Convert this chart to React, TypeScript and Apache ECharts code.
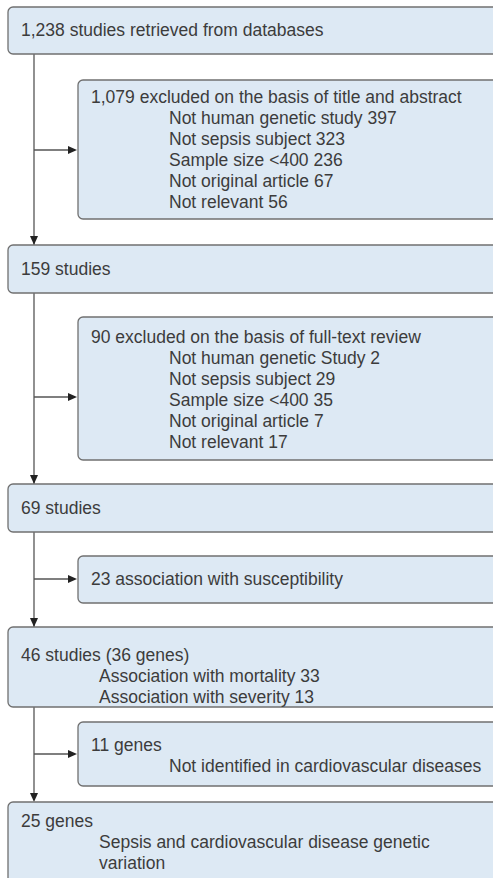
import React, { useEffect, useRef } from "react";
import * as echarts from "echarts";

// ---- data (texts of the flow diagram) ----
const mainHeads = [
  "1,238 studies retrieved from databases",
  "159 studies",
  "69 studies",
  "46 studies (36 genes)",
  "25 genes",
];
const mainItems: string[][] = [
  [],
  [],
  [],
  ["Association with mortality 33", "Association with severity 13"],
  ["Sepsis and cardiovascular disease genetic", "variation"],
];
const sideHeads = [
  "1,079 excluded on the basis of title and abstract",
  "90 excluded on the basis of full-text review",
  "23 association with susceptibility",
  "11 genes",
];
const sideItems: string[][] = [
  ["Not human genetic study 397", "Not sepsis subject 323", "Sample size <400 236", "Not original article 67", "Not relevant 56"],
  ["Not human genetic Study 2", "Not sepsis subject 29", "Sample size <400 35", "Not original article 7", "Not relevant 17"],
  [],
  ["Not identified in cardiovascular diseases"],
];

// ---- layout ----
const mainLayout = [
  { y: 7, h: 47, headY: 30 },
  { y: 245, h: 48, headY: 269 },
  { y: 484, h: 48, headY: 508 },
  { y: 627, h: 80, headY: 655 },
  { y: 802, h: 110, headY: 821 },
];
const sideLayout = [
  { y: 80, h: 139, headY: 97, arrowY: 150 },
  { y: 317, h: 143, headY: 337, arrowY: 397 },
  { y: 556, h: 47, headY: 579, arrowY: 579 },
  { y: 722, h: 64, headY: 745, arrowY: 754 },
];
const LINE = 21;
const MAIN_X = 8;
const SIDE_X = 78;
const TRUNK_X = 34;
const FILL = "#dde9f4";
const STROKE = "#707070";
const TEXT = "#3c3c3c";
const FONT = "Liberation Sans, Arial, sans-serif";
const FS = 17.5;

function txt(s: string, x: number, y: number) {
  return {
    type: "text",
    x,
    y,
    silent: true,
    style: { text: s, fill: TEXT, fontSize: FS, fontFamily: FONT, verticalAlign: "middle", align: "left" },
  };
}

function box(x: number, y: number, h: number) {
  return {
    type: "rect",
    shape: { x, y, width: 560, height: h, r: 5 },
    style: { fill: FILL, stroke: STROKE, lineWidth: 1.3 },
  };
}

function arrowDown(x: number, yTip: number) {
  return {
    type: "polygon",
    shape: { points: [[x - 4, yTip - 9], [x + 4, yTip - 9], [x, yTip]] },
    style: { fill: "#222" },
  };
}
function arrowRight(xTip: number, y: number) {
  return {
    type: "polygon",
    shape: { points: [[xTip - 9, y - 4], [xTip - 9, y + 4], [xTip, y]] },
    style: { fill: "#222" },
  };
}

export default function App() {
  const ref = useRef<HTMLDivElement>(null);
  useEffect(() => {
    if (!ref.current) return;
    const chart = echarts.init(ref.current, undefined, { renderer: "svg" });
    const els: any[] = [];
    // trunk line
    els.push({
      type: "line",
      shape: { x1: TRUNK_X, y1: mainLayout[0].y + mainLayout[0].h, x2: TRUNK_X, y2: mainLayout[4].y - 2 },
      style: { stroke: "#555", lineWidth: 1.3 },
    });
    for (let i = 1; i < mainLayout.length; i++) els.push(arrowDown(TRUNK_X, mainLayout[i].y));
    sideLayout.forEach((l) => {
      els.push({
        type: "line",
        shape: { x1: TRUNK_X, y1: l.arrowY, x2: SIDE_X - 3, y2: l.arrowY },
        style: { stroke: "#555", lineWidth: 1.3 },
      });
      els.push(arrowRight(SIDE_X - 1, l.arrowY));
    });
    mainLayout.forEach((l, i) => {
      els.push(box(MAIN_X, l.y, l.h));
      els.push(txt(mainHeads[i], 21, l.headY));
      mainItems[i].forEach((s, j) => els.push(txt(s, 99, l.headY + LINE * (j + 1))));
    });
    sideLayout.forEach((l, i) => {
      els.push(box(SIDE_X, l.y, l.h));
      els.push(txt(sideHeads[i], 91, l.headY));
      sideItems[i].forEach((s, j) => els.push(txt(s, 169, l.headY + LINE * (j + 1))));
    });
    chart.setOption({ animation: false, graphic: { elements: els } });
    return () => chart.dispose();
  }, []);
  return (
    <div
      ref={ref}
      style={{ position: "fixed", left: 0, top: 0, width: 493, height: 878, background: "#fff" }}
    />
  );
}
